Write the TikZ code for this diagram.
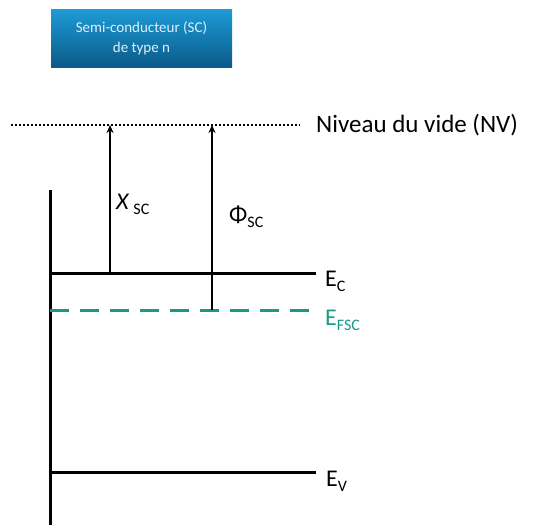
\documentclass[tikz,border=0pt]{standalone}
\usepackage{fontspec}
\setmainfont{Carlito}
\usetikzlibrary{positioning, arrows.meta, calc}
\definecolor{ink}{HTML}{000000}
\definecolor{fermi}{HTML}{1A9A85}
\definecolor{boxtop}{HTML}{1E9BD7}
\definecolor{boxbot}{HTML}{0A5A88}
\definecolor{boxtxt}{HTML}{DDF1FB}
\newcommand{\lowsc}[1]{\raisebox{-5pt}{\fontsize{16}{18}\selectfont #1}}
\tikzset{
  level/.style={line width=3pt, color=ink},
  fermilvl/.style={line width=3pt, color=fermi, dash pattern=on 19pt off 11pt},
  vide/.style={line width=2pt, color=ink, dash pattern=on 2pt off 2pt},
  gap/.style={-{Stealth[length=8pt, width=7pt]}, line width=2.8pt, color=ink},
  lbl/.style={font=\fontsize{24}{27}\selectfont, anchor=base west, inner sep=0pt},
}

\begin{document}
\begin{tikzpicture}[x=1pt, y=-1pt]
  \useasboundingbox (0,0) rectangle (549,525);
  % titre
  \node[top color=boxtop, bottom color=boxbot, minimum width=181pt, minimum height=58pt,
    inner sep=0pt, text=boxtxt, align=center, font=\fontsize{15}{19.5}\selectfont]
    (titre) at (141.5,38) {Semi-conducteur (SC)\\de type n};
  % niveaux
  \coordinate (nv0) at (11,125);  \coordinate (nv1) at (300,125);
  \coordinate (ax0) at (50,190);  \coordinate (ax1) at (50,525);
  \coordinate (ec0) at (50,273);  \coordinate (ec1) at (316,273);
  \coordinate (ef0) at (50,310);  \coordinate (ef1) at (316,310);
  \coordinate (ev0) at (50,472);  \coordinate (ev1) at (316,472);
  \draw[vide] (nv0) -- (nv1);
  \draw[level] (ax0) -- (ax1);
  \draw[level] (ec0) -- (ec1);
  \draw[fermilvl] (ef0) -- (ef1);
  \draw[level] (ev0) -- (ev1);
  \node[lbl, font=\fontsize{25}{28}\selectfont] (nvlbl) at (316,132) {Niveau du vide (NV)};
  \node[lbl] (eclbl) at (325,286) {E\lowsc{C}};
  \node[lbl, text=fermi] (eflbl) at (325,325) {E\lowsc{FSC}};
  \node[lbl] (evlbl) at (326,486) {E\lowsc{V}};
  % affinité et travail de sortie
  \coordinate (chi0) at (110,273); \coordinate (chi1) at (110,125);
  \coordinate (phi0) at (212,310); \coordinate (phi1) at (212,125);
  \draw[gap] (chi0) -- (chi1);
  \draw[gap] (phi0) -- (phi1);
  \node[lbl] (chilbl) at (116,209) {\textit{X}\,\lowsc{SC}};
  \node[lbl] (philbl) at (229,222) {Φ\lowsc{SC}};
\end{tikzpicture}
\end{document}
